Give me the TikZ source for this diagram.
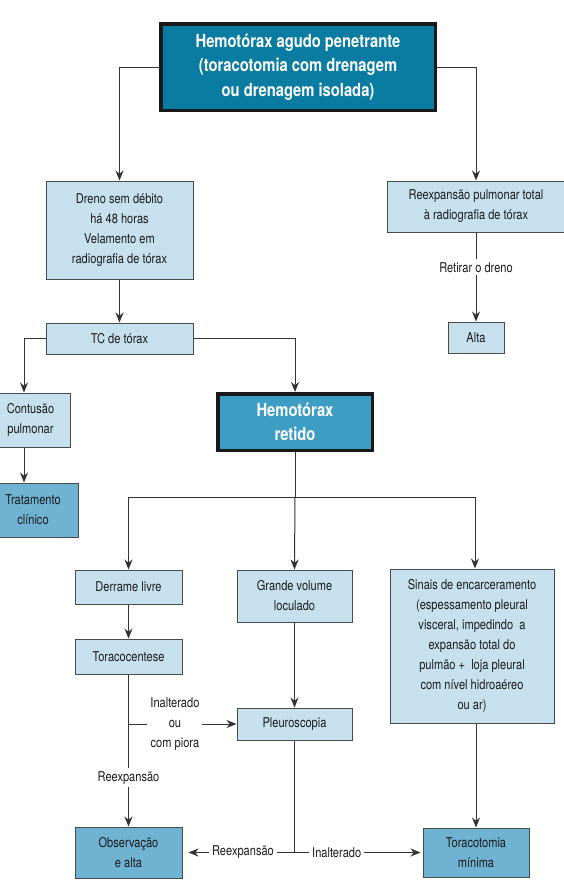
\documentclass[tikz,border=0pt]{standalone}
\usepackage{fontspec}
\setmainfont{TeX Gyre Heros}[FakeStretch=0.82]
\usetikzlibrary{arrows.meta}
\definecolor{topfill}{HTML}{0A7CA2}
\definecolor{retfill}{HTML}{3E9DC3}
\definecolor{lightfill}{HTML}{C6E0EE}
\definecolor{darkfill}{HTML}{70B2D1}
\definecolor{frame}{HTML}{4A4A4A}
\definecolor{ink}{HTML}{1A1A1A}
\definecolor{wire}{HTML}{333333}
\begin{document}
\begin{tikzpicture}[x=1pt,y=-1pt,box/.style={draw=frame,line width=1pt,fill=lightfill,text=ink,align=center,inner sep=0pt,font=\fontsize{13.5}{20}\selectfont},darkbox/.style={box,fill=darkfill},mainbox/.style={draw=black!90,line width=3.5pt,fill=#1,text=white,align=center,inner sep=0pt,font=\fontsize{18}{24.5}\selectfont\bfseries},lbl/.style={fill=white,inner sep=3pt,text=ink,align=center,font=\fontsize{13.5}{20}\selectfont},arr/.style={draw=wire,line width=1pt,-{Stealth[length=10pt,width=8pt]}},con/.style={draw=wire,line width=1pt}]
\useasboundingbox (0,0) rectangle (564,881);
\node[mainbox=topfill,minimum width=274.5pt,minimum height=86.5pt] (top) at (298,67) {Hemotórax agudo penetrante\\(toracotomia com drenagem\\ou drenagem isolada)};
\node[box,minimum width=147pt,minimum height=98pt] (dreno) at (119.5,230) {Dreno sem débito\\há 48 horas\\Velamento em\\radiografia de tórax};
\node[box,minimum width=178pt,minimum height=51pt] (reexp) at (476,206.5) {Reexpansão pulmonar total\\à radiografia de tórax};
\node[box,minimum width=56pt,minimum height=31pt] (alta) at (476,337.5) {Alta};
\node[box,minimum width=147pt,minimum height=31pt] (tc) at (119.5,338.5) {TC de tórax};
\node[box,minimum width=79pt,minimum height=54pt] (cont) at (30.5,420) {Contusão\\pulmonar};
\node[darkbox,minimum width=90pt,minimum height=54pt] (trat) at (33,510) {Tratamento\\clínico};
\node[mainbox=retfill,minimum width=154.5pt,minimum height=56.5pt] (retido) at (295,422) {Hemotórax\\retido};
\node[box,minimum width=107pt,minimum height=34pt] (livre) at (128.5,587) {Derrame livre};
\node[box,minimum width=115pt,minimum height=52pt] (grande) at (294.5,596) {Grande volume\\loculado};
\node[box,minimum width=164pt,minimum height=154pt] (sinais) at (472,646) {Sinais de encarceramento\\(espessamento pleural\\visceral, impedindo\ \ a\\expansão total do\\pulmão +\ \ loja pleural\\com nível hidroaéreo\\ou ar)};
\node[box,minimum width=107pt,minimum height=35pt] (centese) at (128.5,656.5) {Toracocentese};
\node[box,minimum width=115pt,minimum height=32pt] (pleuro) at (294.5,724) {Pleuroscopia};
\node[darkbox,minimum width=107pt,minimum height=51pt] (obs) at (128.5,852.5) {Observação\\e alta};
\node[darkbox,minimum width=106pt,minimum height=49pt] (tmin) at (476,852.5) {Toracotomia\\mínima};
\coordinate (split) at (295,497);
\coordinate (bot) at (pleuro.south |- obs.east);
\draw[arr] (top.west) -| (dreno.north);
\draw[arr] (top.east) -| (reexp.north);
\draw[arr] (reexp.south) -- node[lbl,pos=0.39]{Retirar o dreno} (alta.north);
\draw[arr] (dreno.south) -- (tc.north);
\draw[arr] (tc.west) -| ([xshift=-6.5pt]cont.north);
\draw[arr] ([xshift=-6.5pt]cont.south) -- ([xshift=-9pt]trat.north);
\draw[arr] (tc.east) -| (retido.north);
\draw[con] (retido.south) -- (split);
\draw[arr] (split) -| (livre.north);
\draw[arr] (split) -- (grande.north);
\draw[arr] (split) -| ([xshift=3pt]sinais.north);
\draw[arr] (livre.south) -- (centese.north);
\draw[arr] (grande.south) -- (pleuro.north);
\draw[arr] (centese.south) -- node[lbl,pos=0.68]{Reexpansão} (obs.north);
\draw[arr] (centese.south |- pleuro.west) -- node[lbl,pos=0.43]{Inalterado\\ou\\com piora} (pleuro.west);
\draw[arr] ([xshift=4pt]sinais.south) -- (tmin.north);
\draw[con] (pleuro.south) -- (bot);
\draw[arr,shorten >=6pt] (bot) -- node[lbl,pos=0.46]{Reexpansão} (obs.east);
\draw[arr,shorten >=2pt] (bot) -- node[lbl,pos=0.33]{Inalterado} (tmin.west);
\end{tikzpicture}
\end{document}
